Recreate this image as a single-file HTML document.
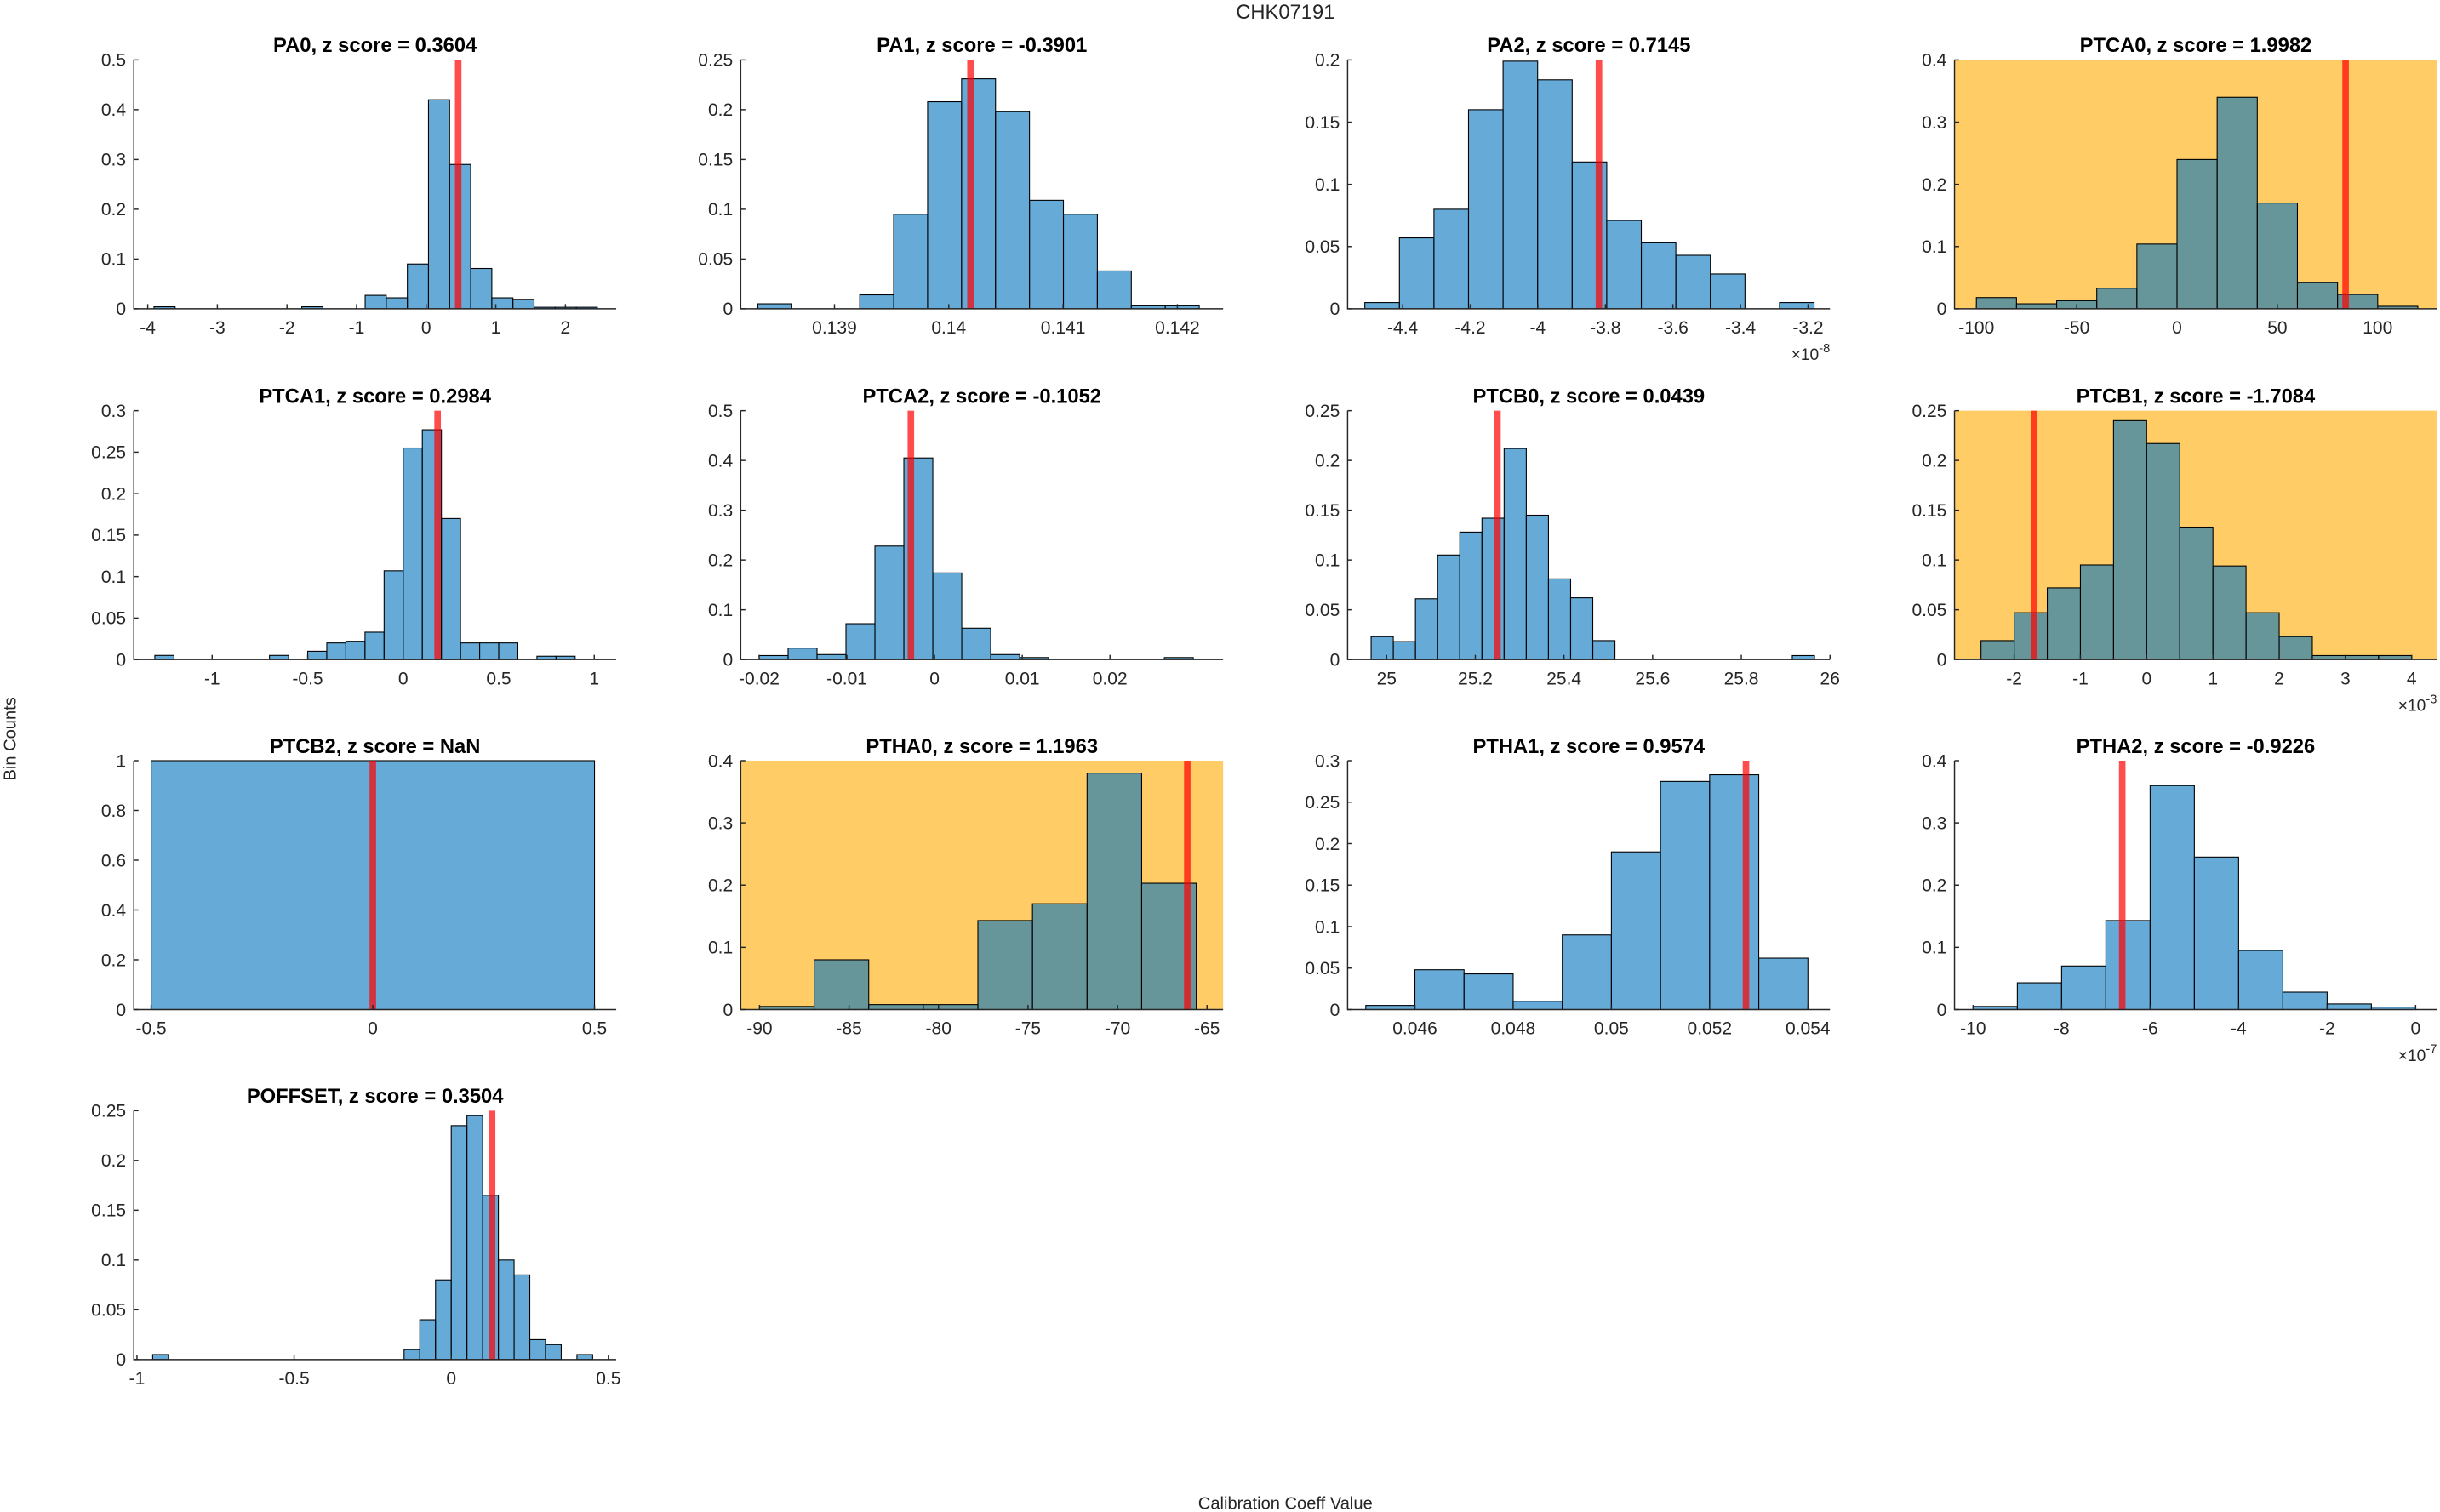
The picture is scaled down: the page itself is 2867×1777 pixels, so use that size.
<!DOCTYPE html>
<html><head><meta charset="utf-8"><style>
html,body{margin:0;padding:0;background:#fff}
svg{display:block}
text{font-family:"Liberation Sans","DejaVu Sans",sans-serif}
</style></head><body>
<svg id="fig" width="2867" height="1777" viewBox="0 0 1568 972" preserveAspectRatio="none" xmlns="http://www.w3.org/2000/svg">
<rect x="0" y="0" width="1568" height="972" fill="#fff"/>
<text x="826" y="12" text-anchor="middle" font-size="13" fill="#262626">CHK07191</text>
<text x="10" y="475" text-anchor="middle" font-size="11" fill="#262626" transform="rotate(-90 10 475)">Bin Counts</text>
<text x="826" y="970" text-anchor="middle" font-size="11" fill="#262626">Calibration Coeff Value</text>
<g id="panels"></g>
</svg>
<script>
// ---- data ----
const pa0Counts = [0.004,0,0,0,0,0,0,0.004,0,0,0.027,0.022,0.09,0.42,0.29,0.081,0.022,0.019,0.003,0.003,0.003];
const pa1Counts = [0.005,0,0,0.014,0.095,0.208,0.231,0.198,0.109,0.095,0.038,0.003,0.003];
const pa2Counts = [0.005,0.057,0.08,0.16,0.199,0.184,0.118,0.071,0.053,0.043,0.028,0,0.005];
const ptca0Counts = [0.018,0.008,0.013,0.033,0.104,0.24,0.34,0.17,0.042,0.023,0.004];
const ptca1Counts = [0.005,0,0,0,0,0,0.005,0,0.01,0.02,0.022,0.033,0.107,0.255,0.277,0.17,0.02,0.02,0.02,0,0.004,0.004];
const ptca2Counts = [0.008,0.023,0.01,0.072,0.228,0.405,0.174,0.063,0.01,0.004,0,0,0,0,0.004];
const ptcb0Counts = [0.023,0.018,0.061,0.105,0.128,0.142,0.212,0.145,0.081,0.062,0.019,0,0,0,0,0,0,0,0,0.004];
const ptcb1Counts = [0.019,0.047,0.072,0.095,0.24,0.217,0.133,0.094,0.047,0.023,0.004,0.004,0.004];
const ptcb2Counts = [1];
const ptha0Counts = [0.005,0.08,0.008,0.008,0.143,0.17,0.38,0.203];
const ptha1Counts = [0.005,0.048,0.043,0.01,0.09,0.19,0.275,0.283,0.062];
const ptha2Counts = [0.005,0.043,0.07,0.143,0.36,0.245,0.095,0.028,0.009,0.004];
const poffsetCounts = [0.005,0,0,0,0,0,0,0,0,0,0,0,0,0,0,0,0.01,0.04,0.08,0.235,0.245,0.165,0.1,0.085,0.02,0.015,0,0.005];

const panelNames = ["PA0","PA1","PA2","PTCA0","PTCA1","PTCA2","PTCB0","PTCB1","PTCB2","PTHA0","PTHA1","PTHA2","POFFSET"];
const zScores = ["0.3604","-0.3901","0.7145","1.9982","0.2984","-0.1052","0.0439","-1.7084","NaN","1.1963","0.9574","-0.9226","0.3504"];
const allCounts = [pa0Counts,pa1Counts,pa2Counts,ptca0Counts,ptca1Counts,ptca2Counts,ptcb0Counts,ptcb1Counts,ptcb2Counts,ptha0Counts,ptha1Counts,ptha2Counts,poffsetCounts];
const binStarts = [-3.91,0.13833,-4.512,-100,-1.3,-0.02,24.965,-2.5,-0.5,-90,0.045,-10,-0.95];
const binWidths = [0.3033,0.000297,0.1023,20,0.1,0.0033,0.05,0.5,1,3.05,0.001,1,0.05];
const redValues = [0.46,0.14019,-3.819,84,0.18,-0.0027,25.25,-1.7,0,-66.1,0.05274,-6.63,0.13];
const xMins = [-4.2,0.13818,-4.563,-110.9,-1.41,-0.0221,24.912,-2.9,-0.539,-91.05,0.04463,-10.42,-1.01];
const xMaxs = [2.73,0.1424,-3.135,129.5,1.115,0.0329,26.0,4.38,0.549,-64.1,0.05445,0.48,0.525];
const yMaxs = [0.5,0.25,0.2,0.4,0.3,0.5,0.25,0.25,1,0.4,0.3,0.4,0.25];
const yTickSteps = [0.1,0.05,0.05,0.1,0.05,0.1,0.05,0.05,0.2,0.1,0.05,0.1,0.05];
const xTickLabels = [
 ["-4","-3","-2","-1","0","1","2"],
 ["0.139","0.14","0.141","0.142"],
 ["-4.4","-4.2","-4","-3.8","-3.6","-3.4","-3.2"],
 ["-100","-50","0","50","100"],
 ["-1","-0.5","0","0.5","1"],
 ["-0.02","-0.01","0","0.01","0.02"],
 ["25","25.2","25.4","25.6","25.8","26"],
 ["-2","-1","0","1","2","3","4"],
 ["-0.5","0","0.5"],
 ["-90","-85","-80","-75","-70","-65"],
 ["0.046","0.048","0.05","0.052","0.054"],
 ["-10","-8","-6","-4","-2","0"],
 ["-1","-0.5","0","0.5"]
];
const exponents = ["","","-8","","","","","-3","","","","-7",""];
const flagged = [false,false,false,true,false,false,false,true,false,true,false,false,false];

// ---- layout ----
const colLeft = [86,476,866,1256];
const rowTop = [38.5,264,489,714];
const axW = 310, axH = 160;
const NS = "http://www.w3.org/2000/svg";
const root = document.getElementById("panels");
function mk(tag, attrs, parent){const e=document.createElementNS(NS,tag);for(const k in attrs)e.setAttribute(k,attrs[k]);parent.appendChild(e);return e;}
function fmt(v){return parseFloat(v.toFixed(6)).toString();}

panelNames.forEach((name,i)=>{
  const x0 = colLeft[i%4], y0 = rowTop[Math.floor(i/4)];
  const xs = v => x0 + (v - xMins[i])/(xMaxs[i]-xMins[i])*axW;
  const ys = v => y0 + axH - v/yMaxs[i]*axH;
  const g = mk("g",{},root);
  
  
  if(flagged[i]){
    const bg = mk("rect",{x:x0,y:y0,width:axW,height:axH,fill:"#ffcc66"},g);
    
    
  }
  const counts = allCounts[i];
  counts.forEach((c,k)=>{
    const a = binStarts[i] + k*binWidths[i], b = a + binWidths[i];
    const r = mk("rect",{x:xs(a),y:ys(c),width:xs(b)-xs(a),height:Math.max(0,ys(0)-ys(c)),fill:"rgb(0,114,189)","fill-opacity":0.6,stroke:"#000","stroke-width":0.6},g);
    
    
  });
  const red = mk("line",{x1:xs(redValues[i]),x2:xs(redValues[i]),y1:y0,y2:y0+axH,stroke:"red","stroke-opacity":0.7,"stroke-width":4.2},g);
  
  
  const ax = mk("path",{d:`M${x0},${y0} V${y0+axH} H${x0+axW}`,fill:"none",stroke:"#262626","stroke-width":0.8},g);
  
  
  const nY = Math.round(yMaxs[i]/yTickSteps[i]);
  for(let t=0;t<=nY;t++){
    const v = t*yTickSteps[i], yy = ys(v);
    mk("line",{x1:x0,x2:x0+3,y1:yy,y2:yy,stroke:"#262626","stroke-width":0.8},g);
    const tl = mk("text",{x:x0-5,y:yy+4,"text-anchor":"end","font-size":11.5,fill:"#262626"},g);
    tl.textContent = fmt(v);
    
    
  }
  xTickLabels[i].forEach(lbl=>{
    const v = parseFloat(lbl);
    const xx = xs(v);
    mk("line",{x1:xx,x2:xx,y1:y0+axH,y2:y0+axH-3,stroke:"#262626","stroke-width":0.8},g);
    const tl = mk("text",{x:xx,y:y0+axH+16,"text-anchor":"middle","font-size":11.5,fill:"#262626"},g);
    tl.textContent = lbl;
    
    
  });
  if(exponents[i]){
    const ex = mk("text",{x:x0+axW,y:y0+axH+33,"text-anchor":"end","font-size":10.5,fill:"#262626"},g);
    ex.innerHTML = '×10<tspan dy="-5" font-size="8">'+exponents[i]+'</tspan>';
    
    
  }
  const ti = mk("text",{x:x0+axW/2,y:y0-5,"text-anchor":"middle","font-size":13,"font-weight":"bold",fill:"#000"},g);
  ti.textContent = name + ", z score = " + zScores[i];
  
  
});
</script>
</body></html>
